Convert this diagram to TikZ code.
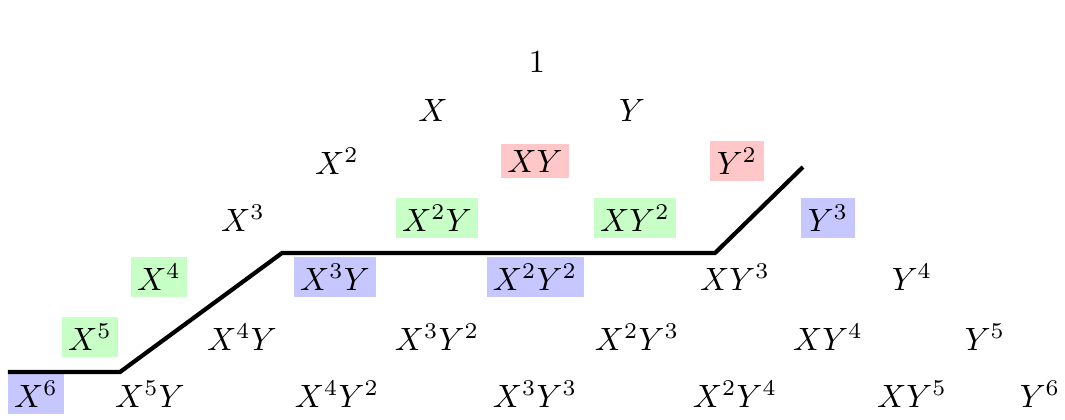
\documentclass[tikz,border=0pt]{standalone}
\usepackage{amsmath,amssymb}
\usepackage{tikz}
\usetikzlibrary{positioning,calc}
\usepackage{xcolor}

\begin{document}
\begin{tikzpicture}[
    x=0.0109cm, y=-0.0109cm,
    mono/.style={inner sep=2pt},
    redm/.style={mono, fill=red!22},
    greenm/.style={mono, fill=green!22},
    bluem/.style={mono, fill=blue!22},
    stair/.style={line width=1.3pt}
]
    \useasboundingbox (0,0) rectangle (1065,419);

    % degree 0 to 2
    \node[mono] (one) at (537,62) {$1$};
    \node[mono] (x) at (433,110) {$X$};
    \node[mono] (y) at (632,110) {$Y$};
    \node[mono] (x2) at (337,161) {$X^2$};
    \node[redm] (xy) at (535,161) {$XY$};
    \node[redm] (y2) at (737,161) {$Y^2$};

    % degree 3
    \node[mono] (x3) at (243,218) {$X^3$};
    \node[greenm] (x2y) at (437,218) {$X^2Y$};
    \node[greenm] (xy2) at (635,218) {$XY^2$};
    \node[bluem] (y3) at (828,218) {$Y^3$};

    % degree 4
    \node[greenm] (x4) at (159,277) {$X^4$};
    \node[bluem] (x3y) at (335,277) {$X^3Y$};
    \node[bluem] (x2y2) at (535,277) {$X^2Y^2$};
    \node[mono] (xy3) at (735,277) {$XY^3$};
    \node[mono] (y4) at (912,277) {$Y^4$};

    % degree 5
    \node[greenm] (x5) at (90,337) {$X^5$};
    \node[mono] (x4y) at (242,337) {$X^4Y$};
    \node[mono] (x3y2) at (437,337) {$X^3Y^2$};
    \node[mono] (x2y3) at (637,337) {$X^2Y^3$};
    \node[mono] (xy4) at (828,337) {$XY^4$};
    \node[mono] (y5) at (985,337) {$Y^5$};

    % degree 6
    \node[bluem] (x6) at (36,394) {$X^6$};
    \node[mono] (x5y) at (150,394) {$X^5Y$};
    \node[mono] (x4y2) at (337,394) {$X^4Y^2$};
    \node[mono] (x3y3) at (535,394) {$X^3Y^3$};
    \node[mono] (x2y4) at (735,394) {$X^2Y^4$};
    \node[mono] (xy5) at (912,394) {$XY^5$};
    \node[mono] (y6) at (1040,394) {$Y^6$};

    % staircase
    \coordinate (s0) at (8,372);
    \coordinate (s1) at (120,372);
    \coordinate (s2) at (282,253);
    \coordinate (s3) at (715,253);
    \coordinate (s4) at (803,167);
    \draw[stair] (s0) -- (s1) -- (s2) -- (s3) -- (s4);
\end{tikzpicture}
\end{document}
